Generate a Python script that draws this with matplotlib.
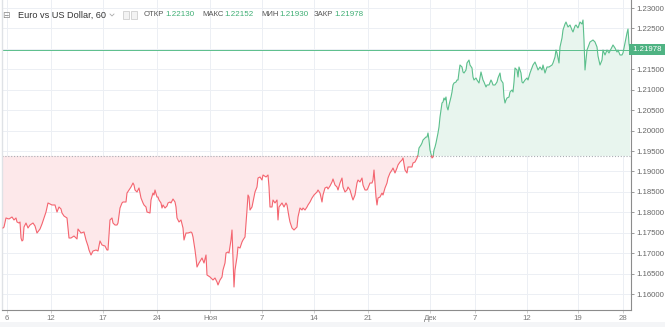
import numpy as np
import matplotlib
matplotlib.use("Agg")
import matplotlib.pyplot as plt
from matplotlib.patches import Rectangle
from matplotlib.lines import Line2D
from matplotlib.ticker import FuncFormatter

# EUR/USD hourly closes (bar index, price)
bar = [0, 1, 3, 6, 9, 11, 13, 14, 16, 17, 18, 19, 20, 21, 23, 25, 27, 30, 32, 34,
       37, 39, 41, 43, 45, 47, 49, 52, 54, 56, 58, 59, 61, 64, 65, 66, 68, 71, 74, 75,
       78, 81, 83, 85, 86, 88, 90, 93, 95, 97, 99, 102, 104, 105, 107, 109, 110, 112, 114, 115,
       117, 119, 120, 123, 124, 126, 128, 130, 131, 132, 134, 135, 136, 138, 140, 141, 143, 144, 147, 148,
       150, 151, 152, 154, 155, 156, 158, 159, 160, 162, 164, 165, 167, 168, 170, 172, 173, 174, 176, 178,
       180, 181, 183, 185, 188, 189, 190, 192, 193, 194, 196, 199, 201, 203, 204, 207, 210, 212, 214, 215,
       217, 219, 220, 222, 223, 225, 226, 228, 229, 230, 231, 232, 234, 235, 237, 239, 240, 242, 244, 245,
       246, 247, 249, 250, 252, 254, 255, 257, 259, 260, 263, 265, 266, 267, 269, 270, 272, 274, 275, 276,
       279, 281, 283, 284, 286, 287, 289, 291, 294, 295, 297, 299, 300, 302, 304, 305, 307, 309, 311, 314,
       315, 317, 319, 320, 322, 324, 325, 327, 329, 330, 332, 334, 335, 337, 339, 340, 342, 344, 345, 347,
       349, 350, 352, 354, 355, 357, 359, 360, 362, 364, 365, 367, 369, 370, 371, 373, 374, 375, 377, 379,
       380, 382, 384, 385, 387, 389, 390, 392, 394, 395, 397, 399, 400, 402, 404, 405, 407, 409, 410, 412,
       414, 415, 416, 418, 419, 420, 422, 423, 424, 425, 426, 427, 429, 430, 431, 432, 433, 434, 435, 436,
       437, 438, 439, 440, 441, 442, 443, 444, 445, 446, 448, 449, 450, 451, 453, 454, 455, 456, 457, 459,
       460, 461, 463, 464, 466, 467, 469, 470, 471, 473, 474, 476, 478, 480, 481, 483, 484, 486, 488, 489,
       490, 492, 494, 495, 497, 498, 500, 501, 502, 503, 504, 506, 507, 509, 510, 511, 512, 514, 515, 516,
       518, 519, 520, 522, 524, 525, 527, 530, 532, 534, 535, 537, 539, 540, 542, 544, 546, 549, 550, 552,
       553, 554, 555, 556, 557, 559, 560, 562, 563, 565, 567, 569, 570, 572, 573, 575, 577, 579, 580, 581,
       582, 584, 587, 590, 592, 594, 595, 597, 599, 600, 602, 604, 606, 609, 610, 612, 614, 615, 617, 619,
       620, 622, 624, 625, 626, 627]

close = [1.17616, 1.17640, 1.17861, 1.17836, 1.17885, 1.17812, 1.17861, 1.17763, 1.17738, 1.17763,
         1.17371, 1.17298, 1.17322, 1.17640, 1.17738, 1.17616, 1.17689, 1.17738, 1.17665, 1.17493,
         1.17591, 1.17714, 1.17861, 1.18007, 1.18228, 1.18203, 1.18179, 1.18179, 1.18007, 1.18130,
         1.18081, 1.17983, 1.17909, 1.17861, 1.17616, 1.17371, 1.17371, 1.17420, 1.17347, 1.17591,
         1.17493, 1.17518, 1.17322, 1.17175, 1.17077, 1.16955, 1.17053, 1.17077, 1.17053, 1.17298,
         1.17200, 1.17175, 1.17077, 1.17077, 1.17812, 1.17861, 1.17738, 1.17689, 1.17689, 1.17738,
         1.18105, 1.18228, 1.18252, 1.18252, 1.18472, 1.18546, 1.18619, 1.18717, 1.18668, 1.18546,
         1.18497, 1.18546, 1.18595, 1.18350, 1.18228, 1.18179, 1.18130, 1.18007, 1.17983, 1.18301,
         1.18472, 1.18423, 1.18546, 1.18374, 1.18374, 1.18301, 1.18228, 1.18105, 1.18179, 1.18105,
         1.18154, 1.18228, 1.18252, 1.18228, 1.18325, 1.18252, 1.18130, 1.17861, 1.17763, 1.17812,
         1.17616, 1.17322, 1.17493, 1.17493, 1.17518, 1.17493, 1.17396, 1.17077, 1.16882, 1.16661,
         1.16759, 1.16882, 1.16759, 1.16955, 1.16466, 1.16417, 1.16343, 1.16392, 1.16294, 1.16221,
         1.16343, 1.16417, 1.16588, 1.16759, 1.17004, 1.17028, 1.17004, 1.17322, 1.17567, 1.16906,
         1.16172, 1.16588, 1.16906, 1.17151, 1.17126, 1.17273, 1.17322, 1.17396, 1.18056, 1.18423,
         1.18374, 1.18056, 1.18130, 1.18252, 1.18497, 1.18619, 1.18839, 1.18864, 1.18790, 1.18913,
         1.18864, 1.18913, 1.18619, 1.18130, 1.18130, 1.18301, 1.18228, 1.18301, 1.17812, 1.18130,
         1.18228, 1.18130, 1.18228, 1.18179, 1.17885, 1.17763, 1.17616, 1.17567, 1.17640, 1.17885,
         1.18105, 1.18056, 1.18105, 1.18056, 1.18130, 1.18179, 1.18252, 1.18350, 1.18423, 1.18497,
         1.18546, 1.18472, 1.18252, 1.18423, 1.18595, 1.18619, 1.18570, 1.18644, 1.18742, 1.18815,
         1.18668, 1.18619, 1.18546, 1.18717, 1.18839, 1.18619, 1.18497, 1.18546, 1.18619, 1.18546,
         1.18374, 1.18301, 1.18423, 1.18717, 1.18790, 1.18742, 1.18839, 1.18668, 1.18546, 1.18546,
         1.18595, 1.18717, 1.18717, 1.18790, 1.19035, 1.18374, 1.18179, 1.18350, 1.18374, 1.18472,
         1.18423, 1.18595, 1.18717, 1.18839, 1.18962, 1.19035, 1.19084, 1.18962, 1.19084, 1.19158,
         1.19231, 1.19280, 1.19329, 1.19035, 1.18962, 1.19109, 1.19109, 1.19109, 1.19207, 1.19231,
         1.19329, 1.19402, 1.19574, 1.19647, 1.19696, 1.19769, 1.19818, 1.19843, 1.19843, 1.19941,
         1.19769, 1.19525, 1.19329, 1.19353, 1.19525, 1.19598, 1.19696, 1.19818, 1.19941, 1.20088,
         1.20332, 1.20504, 1.20675, 1.20699, 1.20797, 1.20748, 1.20822, 1.20577, 1.20504, 1.20626,
         1.20822, 1.20944, 1.21116, 1.21164, 1.21189, 1.21238, 1.21238, 1.21434, 1.21605, 1.21556,
         1.21434, 1.21409, 1.21483, 1.21654, 1.21727, 1.21605, 1.21532, 1.21311, 1.21238, 1.21287,
         1.21238, 1.21164, 1.21434, 1.21238, 1.21189, 1.21067, 1.21116, 1.21116, 1.21238, 1.21189,
         1.21116, 1.21116, 1.21189, 1.21287, 1.21409, 1.21238, 1.21164, 1.20822, 1.20675, 1.20748,
         1.20797, 1.20822, 1.20944, 1.20993, 1.20944, 1.21189, 1.21532, 1.21483, 1.21311, 1.21556,
         1.21409, 1.21189, 1.21164, 1.21238, 1.21287, 1.21238, 1.21409, 1.21605, 1.21678, 1.21556,
         1.21483, 1.21556, 1.21483, 1.21605, 1.21409, 1.21556, 1.21556, 1.21605, 1.21654, 1.21801,
         1.21972, 1.21899, 1.21776, 1.21654, 1.22046, 1.22266, 1.22462, 1.22608, 1.22657, 1.22535,
         1.22584, 1.22462, 1.22413, 1.22560, 1.22584, 1.22511, 1.22657, 1.22608, 1.22706, 1.22217,
         1.21483, 1.21972, 1.22168, 1.22217, 1.22168, 1.22046, 1.21825, 1.21605, 1.21727, 1.21972,
         1.21850, 1.21972, 1.21899, 1.22046, 1.22095, 1.22021, 1.21923, 1.21972, 1.21850, 1.21850,
         1.21899, 1.22143, 1.22388, 1.22486, 1.22130, 1.21978]

base_price = 1.19378
last_price = 1.21978

tick_bars = [4, 48, 100, 154, 207, 259, 311, 365, 427, 472, 524, 575, 620]
tick_labels = ["6", "12", "17", "24", "Ноя", "7", "14", "21", "Дек", "7", "12", "19", "28"]
price_ticks = [1.160, 1.165, 1.170, 1.175, 1.180, 1.185, 1.190, 1.195,
               1.200, 1.205, 1.210, 1.215, 1.220, 1.225, 1.230]

symbol_title = "Euro vs US Dollar, 60"
ohlc_names = ["ОТКР", "МАКС", "МИН", "ЗАКР"]
ohlc_values = ["1.22130", "1.22152", "1.21930", "1.21978"]

UP_LINE = "#5bbf8c"
UP_FILL = "#e8f5ee"
DN_LINE = "#f4646f"
DN_FILL = "#fde8ea"
GRID = "#eceff4"

W, H = 665, 327
fig = plt.figure(figsize=(W / 100, H / 100), dpi=100)
fig.patch.set_facecolor("white")


def fx(px):
    return px / W


def fy(py):
    return 1 - py / H


ax = fig.add_axes([fx(2), fy(310), fx(631) - fx(2), fy(0) - fy(310)])
ax.set_xlim(-1, 628)
ax.set_ylim(1.156089, 1.231958)

x = np.asarray(bar, dtype=float)
y = np.asarray(close, dtype=float)

# insert exact crossing points of the baseline so the two colours join cleanly
xs, ys = [x[0]], [y[0]]
for i in range(1, len(x)):
    d0, d1 = y[i - 1] - base_price, y[i] - base_price
    if d0 * d1 < 0:
        t = d0 / (d0 - d1)
        xs.append(x[i - 1] + t * (x[i] - x[i - 1]))
        ys.append(base_price)
    xs.append(x[i])
    ys.append(y[i])
xs = np.array(xs)
ys = np.array(ys)

ax.fill_between(xs, ys, base_price, where=ys >= base_price, color=UP_FILL, lw=0, zorder=1)
ax.fill_between(xs, ys, base_price, where=ys <= base_price, color=DN_FILL, lw=0, zorder=1)
ax.plot(xs, np.where(ys >= base_price, ys, np.nan), color=UP_LINE, lw=0.8, zorder=3)
ax.plot(xs, np.where(ys <= base_price, ys, np.nan), color=DN_LINE, lw=0.8, zorder=3)

ax.axhline(base_price, color="#a9adb3", lw=0.8, ls=(0, (1, 1.6)), zorder=2)
ax.axhline(last_price, color=UP_LINE, lw=0.7, zorder=2)

# grid and scales
ax.set_yticks(price_ticks)
ax.set_xticks(tick_bars)
ax.set_xticklabels(tick_labels)
ax.grid(True, color=GRID, lw=0.7, zorder=0)
ax.set_axisbelow(True)


def price_label(v, _pos):
    # the level hidden behind the last-price tag is left blank
    if abs(v - last_price) < 0.001:
        return ""
    return f"{v:.5f}"


ax.yaxis.tick_right()
ax.yaxis.set_major_formatter(FuncFormatter(price_label))
ax.tick_params(axis="y", direction="out", length=2.2, width=0.6, color="#8a8a8a",
               pad=1.5, labelsize=5.6, labelcolor="#666666")
ax.tick_params(axis="x", direction="out", length=2.0, width=0.6, color="#c8c8c8",
               pad=1.5, labelsize=5.6, labelcolor="#7a7a7a")
for lab in ax.get_xticklabels() + ax.get_yticklabels():
    lab.set_fontfamily("Liberation Sans")

ax.spines["top"].set_visible(False)
ax.spines["right"].set_color("#8c8c8c")
ax.spines["right"].set_linewidth(0.8)
ax.spines["bottom"].set_color("#8c8c8c")
ax.spines["bottom"].set_linewidth(0.8)
ax.spines["left"].set_color("#dfe2e6")
ax.spines["left"].set_linewidth(1.0)

# last price tag on the price scale
ax.text(1.0, last_price, " 1.21978 ", transform=ax.get_yaxis_transform(),
        ha="left", va="center", fontsize=5.6, color="white", family="Liberation Sans",
        zorder=10, clip_on=False,
        bbox=dict(boxstyle="square,pad=0.25", facecolor="#4fb383", edgecolor="none"))

# light strip under the time scale
fig.patches.append(Rectangle((0, 0), 1, fy(322), transform=fig.transFigure,
                             facecolor="#f4f5f7", edgecolor="none", zorder=-1))

# legend header
hy = fy(15)
fig.text(fx(2), hy, "⊟", fontsize=6.5, color="#888888", va="center", ha="left",
         family="DejaVu Sans")
fig.text(fx(18), hy, symbol_title, fontsize=6.6, color="#333333", va="center", ha="left",
         family="Liberation Sans")
fig.lines.append(Line2D([fx(110), fx(112), fx(114)], [fy(14), fy(16), fy(14)],
                        transform=fig.transFigure, color="#aaaaaa", lw=0.6))
for px in (123, 131):
    fig.patches.append(Rectangle((fx(px), fy(19)), fx(6), fy(11) - fy(19),
                                 transform=fig.transFigure, facecolor="#f3f3f3",
                                 edgecolor="#cfcfcf", lw=0.6))

renderer = fig.canvas.get_renderer()
name_x = [144, 202, 261, 314]
for nx, name, val in zip(name_x, ohlc_names, ohlc_values):
    t = fig.text(fx(nx), hy, name, fontsize=5.6, color="#555555", va="center", ha="left",
                 family="Liberation Sans")
    bb = t.get_window_extent(renderer=renderer)
    fig.text(bb.x1 / W + fx(1), hy, val, fontsize=5.8, color="#3fae74", va="center",
             ha="left", family="Liberation Sans")

fig.savefig("out.png", dpi=100)
